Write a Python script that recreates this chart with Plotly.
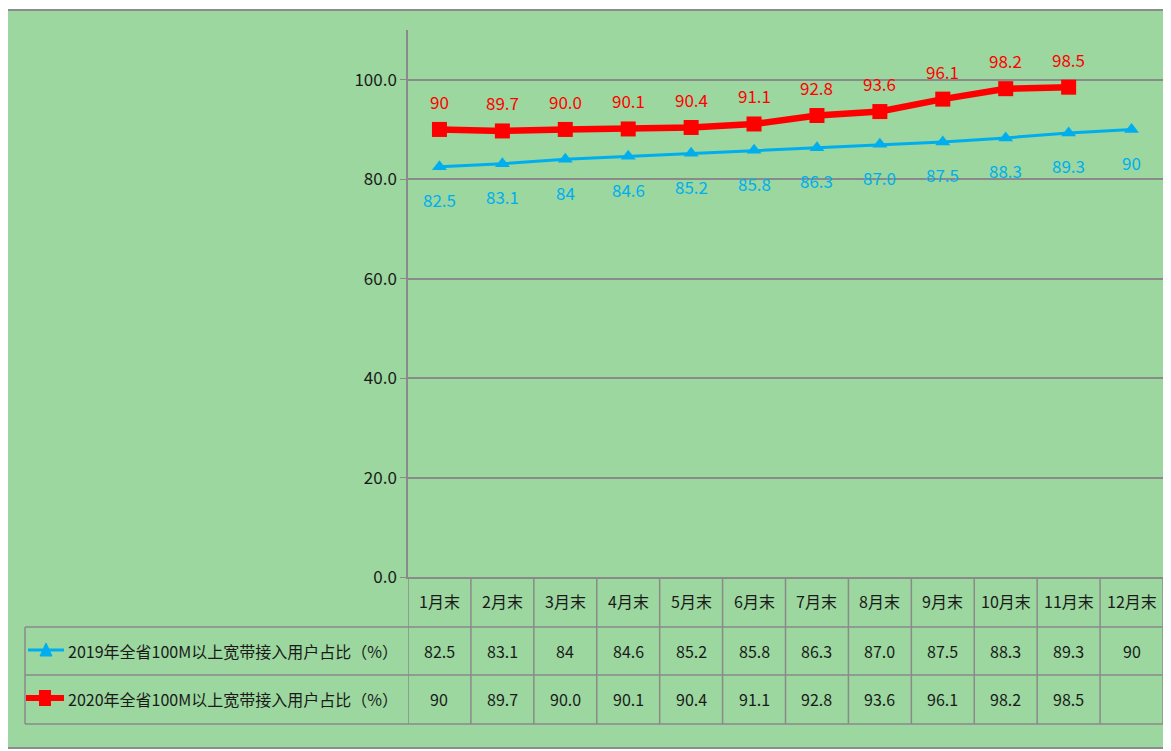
import plotly.graph_objects as go

months = ["1月末", "2月末", "3月末", "4月末", "5月末", "6月末", "7月末", "8月末", "9月末", "10月末", "11月末", "12月末"]
s2019_name = "2019年全省100M以上宽带接入用户占比（%）"
s2020_name = "2020年全省100M以上宽带接入用户占比（%）"
s2019 = [82.5, 83.1, 84, 84.6, 85.2, 85.8, 86.3, 87.0, 87.5, 88.3, 89.3, 90]
s2019_txt = ["82.5", "83.1", "84", "84.6", "85.2", "85.8", "86.3", "87.0", "87.5", "88.3", "89.3", "90"]
s2020 = [90, 89.7, 90.0, 90.1, 90.4, 91.1, 92.8, 93.6, 96.1, 98.2, 98.5, None]
s2020_txt = ["90", "89.7", "90.0", "90.1", "90.4", "91.1", "92.8", "93.6", "96.1", "98.2", "98.5", ""]
y_ticks = [0, 20, 40, 60, 80, 100]

OFF = 8  # page body margin
W, H = 1171 - OFF, 751 - OFF
L, R, T, B = 408 - OFF, 1163 - OFF, 30 - OFF, 577 - OFF
BLUE = "#00AEEF"
RED = "#FF0000"
GREEN = "rgb(155,215,158)"
GRID = "#8a8a8a"
TXT = "#1a1a1a"
FONT = "Liberation Sans Narrow, Noto Sans CJK SC, sans-serif"

def px(x):
    return (x - OFF - L) / (R - L)

def py(y):
    return (B - (y - OFF)) / (B - T)

fig = go.Figure()
xs = list(range(len(months)))
fig.add_trace(go.Scatter(x=xs, y=s2019, mode="lines+markers", name=s2019_name,
                         line=dict(color=BLUE, width=3),
                         marker=dict(symbol="triangle-up", size=13, color=BLUE)))
fig.add_trace(go.Scatter(x=xs, y=s2020, mode="lines+markers", name=s2020_name,
                         line=dict(color=RED, width=6.5),
                         marker=dict(symbol="square", size=15, color=RED)))

ann = []
shapes = []
shapes.append(dict(type="rect", xref="paper", yref="paper", x0=px(7), x1=px(1167), y0=py(748), y1=py(10),
                   fillcolor=GREEN, line=dict(color="#8c8c8c", width=2), layer="below"))
for i, (v, t) in enumerate(zip(s2019, s2019_txt)):
    ann.append(dict(x=i, y=v, xref="x", yref="y", text=t, showarrow=False, yshift=-33,
                    font=dict(color=BLUE, size=17, family=FONT)))
for i, (v, t) in enumerate(zip(s2020, s2020_txt)):
    if v is None:
        continue
    ann.append(dict(x=i, y=v, xref="x", yref="y", text=t, showarrow=False, yshift=28,
                    font=dict(color=RED, size=17, family=FONT)))

row_y = [577, 627, 675, 724]
tline = dict(color="#8a8a8a", width=1.5)
for yy in row_y[1:]:
    shapes.append(dict(type="line", xref="paper", yref="paper", x0=px(25), x1=px(1163), y0=py(yy), y1=py(yy), line=tline))
shapes.append(dict(type="line", xref="paper", yref="paper", x0=px(25), x1=px(25), y0=py(627), y1=py(724), line=tline))
for k in range(len(months) + 1):
    shapes.append(dict(type="line", xref="x", yref="paper", x0=k - 0.5, x1=k - 0.5, y0=py(577), y1=py(724), line=tline))
for i, m in enumerate(months):
    ann.append(dict(x=i, y=py(601), xref="x", yref="paper", text=m, showarrow=False, yanchor="middle",
                    font=dict(color=TXT, size=16, family=FONT)))
    ann.append(dict(x=i, y=py(651), xref="x", yref="paper", text=s2019_txt[i], showarrow=False, yanchor="middle",
                    font=dict(color=TXT, size=16, family=FONT)))
    ann.append(dict(x=i, y=py(699), xref="x", yref="paper", text=s2020_txt[i], showarrow=False, yanchor="middle",
                    font=dict(color=TXT, size=16, family=FONT)))
ann.append(dict(x=px(66), y=py(651), xref="paper", yref="paper", text=s2019_name, showarrow=False,
                xanchor="left", yanchor="middle", font=dict(color=TXT, size=16, family=FONT)))
ann.append(dict(x=px(66), y=py(699), xref="paper", yref="paper", text=s2020_name, showarrow=False,
                xanchor="left", yanchor="middle", font=dict(color=TXT, size=16, family=FONT)))
shapes.append(dict(type="line", xref="paper", yref="paper", x0=px(28), x1=px(64), y0=py(650), y1=py(650),
                   line=dict(color=BLUE, width=3)))
shapes.append(dict(type="path", xref="paper", yref="paper",
                   path=f"M {px(40)} {py(656)} L {px(52)} {py(656)} L {px(46)} {py(643)} Z",
                   fillcolor=BLUE, line=dict(color=BLUE, width=1)))
shapes.append(dict(type="line", xref="paper", yref="paper", x0=px(26), x1=px(64), y0=py(698), y1=py(698),
                   line=dict(color=RED, width=6)))
shapes.append(dict(type="rect", xref="paper", yref="paper", x0=px(39), x1=px(51), y0=py(706), y1=py(690),
                   fillcolor=RED, line=dict(color=RED, width=0)))

fig.update_layout(
    width=W, height=H,
    margin=dict(l=L, r=W - R, t=T, b=H - B),
    paper_bgcolor="white", plot_bgcolor=GREEN,
    showlegend=False,
    annotations=ann, shapes=shapes,
    xaxis=dict(range=[-0.5, len(months) - 0.5], showticklabels=False, showgrid=False, zeroline=False,
               showline=True, linecolor=GRID, linewidth=1.5, ticks=""),
    yaxis=dict(range=[0, 110], tickvals=y_ticks, ticktext=[f"{v:.1f}" for v in y_ticks],
               showgrid=True, gridcolor=GRID, gridwidth=1.5, zeroline=False,
               showline=True, linecolor=GRID, linewidth=1.5, ticks="outside", ticklen=6, tickcolor=GRID,
               tickfont=dict(color=TXT, size=17, family=FONT)),
)
fig.write_html("out.html")
